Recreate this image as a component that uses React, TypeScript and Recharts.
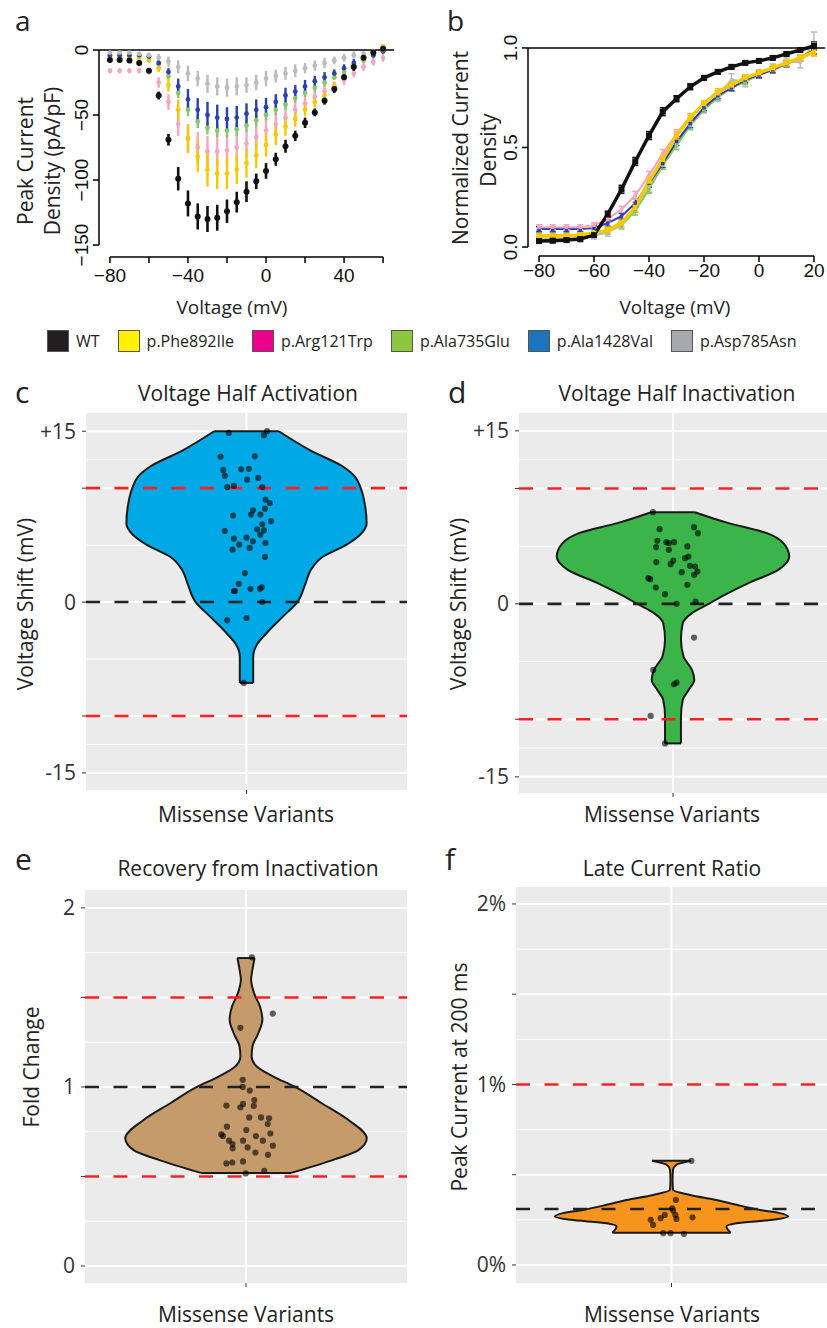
import React from "react";
import {
  ComposedChart, LineChart, Line, Area, Scatter, XAxis, YAxis, CartesianGrid, ReferenceLine, ErrorBar,
} from "recharts";

const LABEL_FONT = "'Open Sans', 'DejaVu Sans', sans-serif";
const TICK_FONT = "'Liberation Sans', Arial, sans-serif";

// ---- panel a: peak current density (pA/pF) vs voltage ----
const voltsA = [-80, -75, -70, -65, -60, -55, -50, -45, -40, -35, -30, -25, -20, -15, -10, -5, 0, 5, 10, 15, 20, 25, 30, 35, 40, 45, 50, 55, 60];
const wtA = [-7.7, -7.7, -8, -10, -16, -35, -69, -99, -118, -128, -130, -129, -124, -117, -109, -101, -93, -84, -74, -66, -56, -48, -39, -30, -21, -13, -6, -2, 1];
const wtErrA = [1, 1, 1, 1.5, 2, 3, 4.5, 9, 10, 10, 10, 10, 9, 8, 8, 6, 6, 5, 5, 4, 4, 3, 3, 3, 3, 3, 2, 2, 2];
const pheA = [-6, -6, -6, -7, -8, -14, -27, -46, -68, -82, -92, -95, -95, -92, -87, -81, -73, -65, -59, -53, -46, -40, -35, -28, -21, -12, -6, -2, 2.5];
const pheErrA = [1, 1, 1, 1, 2, 3, 5, 8, 11, 12, 13, 12, 12, 11, 11, 10, 9, 8, 7, 6, 5, 4, 4, 3, 3, 2, 2, 2, 2];
const argA = [-16, -16, -16, -16, -17, -25, -40, -57, -68, -75, -78, -78, -77, -75, -72, -67, -62, -57, -52, -46, -41, -36, -32, -28, -23, -18, -13, -9, -6];
const argErrA = [2, 2, 2, 2, 2, 4, 6, 9, 11, 12, 12, 12, 12, 11, 11, 10, 9, 8, 7, 6, 6, 5, 5, 4, 4, 3, 3, 3, 3];
const ala735A = [-5, -5, -5, -5, -5, -11, -20, -33, -46, -55, -60, -62, -62, -61, -58, -54, -50, -46, -42, -37, -33, -29, -25, -21, -17, -12, -8, -4, -1];
const ala735ErrA = [1, 1, 1, 1, 1, 2, 3, 4, 5, 5, 5, 5, 5, 5, 5, 5, 4, 4, 4, 3, 3, 3, 3, 2, 2, 2, 2, 2, 2];
const ala1428A = [-4, -4, -4, -4, -5, -10, -17, -28, -38, -46, -50, -52, -53, -52, -49, -46, -44, -40, -35, -32, -28, -24, -21, -18, -14, -10, -6, -4, -1];
const ala1428ErrA = [1, 1, 1, 1, 1, 2, 3, 6, 8, 9, 10, 10, 9, 9, 8, 8, 7, 6, 6, 5, 5, 4, 4, 3, 3, 3, 2, 2, 2];
const aspA = [-2, -2, -2, -3, -4, -6, -9, -13, -18, -22, -26, -28, -29, -28, -27, -25, -22, -20, -18, -16, -14, -12, -10, -8, -6, -4, -3, -1, 0];
const aspErrA = [1, 1, 1, 1, 2, 3, 4, 5, 6, 6, 7, 7, 7, 7, 6, 6, 6, 5, 5, 5, 4, 4, 4, 3, 3, 3, 2, 2, 2];
const xTicksA = [-80, -60, -40, -20, 0, 20, 40, 60];
const xLabelsA = [-80, -40, 0, 40];
const yTicksA = [-150, -100, -50, 0];

// ---- panel b: normalized current density vs voltage ----
const voltsB = [-80, -75, -70, -65, -60, -55, -50, -45, -40, -35, -30, -25, -20, -15, -10, -5, 0, 5, 10, 15, 20];
const wtB = [0.03, 0.032, 0.035, 0.04, 0.06, 0.165, 0.29, 0.43, 0.56, 0.68, 0.745, 0.805, 0.85, 0.88, 0.905, 0.925, 0.935, 0.95, 0.97, 0.99, 1.01];
const pheB = [0.055, 0.055, 0.055, 0.06, 0.07, 0.085, 0.12, 0.2, 0.33, 0.44, 0.56, 0.65, 0.72, 0.78, 0.815, 0.85, 0.875, 0.9, 0.925, 0.95, 0.98];
const argB = [0.1, 0.1, 0.1, 0.1, 0.11, 0.14, 0.19, 0.26, 0.36, 0.47, 0.57, 0.65, 0.72, 0.77, 0.81, 0.85, 0.875, 0.9, 0.925, 0.95, 0.98];
const ala735B = [0.06, 0.06, 0.06, 0.06, 0.065, 0.08, 0.11, 0.18, 0.29, 0.41, 0.51, 0.61, 0.69, 0.75, 0.8, 0.83, 0.865, 0.89, 0.92, 0.95, 0.99];
const ala1428B = [0.09, 0.09, 0.09, 0.09, 0.095, 0.12, 0.155, 0.22, 0.32, 0.42, 0.53, 0.62, 0.7, 0.76, 0.8, 0.84, 0.865, 0.89, 0.92, 0.95, 0.99];
const aspB = [0.04, 0.04, 0.04, 0.04, 0.055, 0.075, 0.11, 0.2, 0.3, 0.42, 0.52, 0.62, 0.7, 0.76, 0.84, 0.83, 0.87, 0.9, 0.93, 0.93, 1.02];
const wtErrB = [0.01, 0.01, 0.01, 0.01, 0.01, 0.015, 0.02, 0.02, 0.02, 0.02, 0.015, 0.015, 0.01, 0.01, 0.01, 0.01, 0.01, 0.01, 0.01, 0.01, 0.02];
const varErrB = [0.012, 0.012, 0.012, 0.012, 0.012, 0.015, 0.015, 0.02, 0.02, 0.02, 0.02, 0.02, 0.015, 0.015, 0.015, 0.015, 0.015, 0.015, 0.015, 0.015, 0.02];
const aspErrB = [0.015, 0.015, 0.015, 0.015, 0.015, 0.02, 0.02, 0.025, 0.025, 0.03, 0.03, 0.03, 0.025, 0.025, 0.03, 0.025, 0.02, 0.02, 0.02, 0.03, 0.06];
const xTicksB = [-80, -60, -40, -20, 0, 20];
const yTicksB = [0, 0.5, 1];

const seriesKeys = ["wt", "phe", "arg", "ala735", "ala1428", "asp"];
const legendNames = ["WT", "p.Phe892Ile", "p.Arg121Trp", "p.Ala735Glu", "p.Ala1428Val", "p.Asp785Asn"];

// ---- violin panels ----
const cShapeV = [-7.1, -4.8, -3.66, -2.8, -1.3, 0, 1.6, 2.8, 3.96, 5.0, 6.15, 6.9, 8.35, 10, 11, 11.9, 13.3, 15];
const cShapeW = [0.025, 0.025, 0.041, 0.072, 0.135, 0.19, 0.22, 0.24, 0.284, 0.371, 0.434, 0.449, 0.444, 0.427, 0.406, 0.36, 0.24, 0.121];
const cVal = [14.85, 15, 14.65, 12.75, 12.8, 11.6, 11.66, 11.7, 11.1, 10.75, 10.9, 10.1, 10.2, 10.1, 9.0, 8.7, 8.06, 8.2, 7.6, 7.68, 7.68, 7.1, 6.83, 6.24, 6.39, 6.3, 5.9, 5.57, 5.65, 5.33, 5.04, 5.19, 4.6, 4.75, 3.96, 2.55, 1.6, 0.97, 0.97, 1.17, 1.17, 1.3, 0, -1.6, -1.4, -7.1];
const cJit = [-0.066, 0.077, 0.065, -0.097, 0.031, -0.087, -0.02, 0.009, -0.081, 0.002, 0.044, -0.072, -0.047, 0.059, 0.071, 0.087, 0.024, 0.069, -0.05, 0.017, 0.052, 0.092, 0.059, -0.081, 0.04, 0.065, 0.052, -0.047, 0, 0.024, -0.027, 0.071, -0.052, 0.012, 0.069, -0.006, -0.029, -0.047, -0.043, 0.015, 0.05, 0.057, 0.059, -0.072, 0, -0.01];

const dShapeV = [-12.1, -9.78, -8.33, -7.46, -6.6, -5.73, -4.57, -3.1, -1.68, -0.8, 0, 0.64, 1.8, 2.95, 4.1, 5.26, 6.13, 7.0, 7.95];
const dShapeW = [0.031, 0.031, 0.038, 0.061, 0.083, 0.074, 0.041, 0.031, 0.038, 0.074, 0.139, 0.19, 0.294, 0.41, 0.453, 0.43, 0.366, 0.217, 0.085];
const dVal = [7.95, 6.48, 6.65, 6.13, 5.47, 5.35, 5.35, 5.26, 4.98, 4.92, 4.69, 4.1, 3.96, 3.76, 3.62, 3.44, 3.3, 3.24, 2.75, 2.8, 2.52, 2.23, 2.14, 1.65, 1.42, 0.84, 0, 0.2, -2.92, -5.73, -6.97, -6.83, -9.72, -12.1];
const dJit = [-0.078, -0.052, 0.082, 0.097, -0.061, -0.026, 0.004, -0.016, 0.056, -0.066, -0.016, 0.06, 0.047, 0.001, -0.065, -0.009, 0.066, 0.086, 0.034, 0.095, 0.082, -0.096, -0.089, 0.056, -0.067, -0.031, 0.014, 0.088, 0.082, -0.077, 0.004, 0.014, -0.087, -0.031];

const eShapeV = [0.52, 0.59, 0.647, 0.713, 0.815, 0.909, 1.0, 1.058, 1.114, 1.17, 1.226, 1.3, 1.375, 1.45, 1.52, 1.6, 1.655, 1.72];
const eShapeW = [0.168, 0.32, 0.419, 0.45, 0.382, 0.282, 0.183, 0.102, 0.04, 0.021, 0.024, 0.046, 0.061, 0.052, 0.031, 0.019, 0.024, 0.032];
const eVal = [1.724, 1.41, 1.33, 1.04, 1.0, 0.98, 0.896, 0.886, 0.905, 0.927, 0.894, 0.83, 0.83, 0.825, 0.793, 0.778, 0.759, 0.735, 0.726, 0.74, 0.726, 0.7, 0.681, 0.7, 0.7, 0.672, 0.662, 0.657, 0.634, 0.621, 0.573, 0.578, 0.584, 0.517, 0.532];
const eJit = [0.022, 0.1, -0.021, -0.012, -0.012, 0.014, -0.073, -0.021, -0.011, 0.031, 0.029, 0.012, 0.056, 0.086, 0.081, -0.071, 0.001, -0.092, -0.086, 0.091, 0.037, -0.063, -0.05, -0.011, 0.063, 0.1, 0.006, -0.05, 0.035, 0.082, -0.073, -0.051, -0.011, -0.001, 0.068];

const fShapeV = [0.179, 0.213, 0.231, 0.25, 0.268, 0.287, 0.305, 0.333, 0.36, 0.388, 0.416, 0.471, 0.527, 0.555, 0.577];
const fShapeW = [0.228, 0.212, 0.25, 0.39, 0.45, 0.418, 0.341, 0.251, 0.174, 0.071, 0.006, 0.004, 0.006, 0.019, 0.075];
const fVal = [0.577, 0.36, 0.314, 0.301, 0.277, 0.259, 0.25, 0.277, 0.255, 0.264, 0.222, 0.176, 0.176, 0.172];
const fJit = [0.077, 0.017, 0.003, 0.006, -0.026, -0.042, -0.08, 0.015, 0.019, 0.081, -0.071, -0.032, -0.004, 0.048];

const shiftTicks = [-15, -10, 0, 10, 15];
const shiftTickLabels = ["-15", "", "0", "", "+15"];
const shiftMinor = [-12.5, -5, 5, 12.5];
const foldTicks = [0, 0.5, 1, 1.5, 2];
const foldTickLabels = ["0", "", "1", "", "2"];
const pctTickLabels = ["0%", "", "1%", "", "2%"];
const foldMinor = [0.25, 0.75, 1.25, 1.75];

// ---- styling ----
const TRACE = { wt: "#111111", phe: "#f6c800", arg: "#f4a6bd", ala735: "#86c96a", ala1428: "#2b3fae", asp: "#bcbcbc" } as Record<string, string>;
const LEGEND = { wt: "#231f20", phe: "#fff200", arg: "#ec008c", ala735: "#8dc63f", ala1428: "#1c75bc", asp: "#a7a9ac" } as Record<string, string>;

const minus = (v: number) => (v < 0 ? `\u2212${Math.abs(v)}` : `${v}`);

const tableA = voltsA.map((v, i) => ({
  v,
  wt: wtA[i], wtErr: wtErrA[i],
  phe: pheA[i], pheErr: pheErrA[i],
  arg: argA[i], argErr: argErrA[i],
  ala735: ala735A[i], ala735Err: ala735ErrA[i],
  ala1428: ala1428A[i], ala1428Err: ala1428ErrA[i],
  asp: aspA[i], aspErr: aspErrA[i],
}));

const tableB = voltsB.map((v, i) => ({
  v,
  wt: wtB[i], wtErr: wtErrB[i],
  phe: pheB[i], pheErr: varErrB[i],
  arg: argB[i], argErr: varErrB[i],
  ala735: ala735B[i], ala735Err: varErrB[i],
  ala1428: ala1428B[i], ala1428Err: varErrB[i],
  asp: aspB[i], aspErr: aspErrB[i],
}));

const A_X: [number, number] = [-85.6, 65.6];
const A_Y: [number, number] = [-159.2, 7.7];
const B_X: [number, number] = [-84, 24];
const B_Y: [number, number] = [-0.045, 1.05];

function RotTick(props: any) {
  const { x, y, payload, fmt } = props;
  return (
    <text x={x} y={y} transform={`rotate(-90, ${x}, ${y})`} textAnchor="middle"
      fontSize={19} fontFamily={TICK_FONT} fill="#111">{fmt(payload.value)}</text>
  );
}

function PanelA() {
  const order = ["arg", "ala735", "phe", "ala1428", "asp", "wt"];
  return (
    <LineChart width={420} height={300} data={tableA} margin={{ top: 40, right: 26, bottom: 0, left: 59 }}>
      <XAxis dataKey="v" type="number" domain={A_X} ticks={xTicksA} interval={0} height={43}
        axisLine={false} tickSize={6} tickLine={{ stroke: "#000", strokeWidth: 1.5 }} allowDataOverflow
        tick={(p: any) => (
          <text x={p.x} y={p.y} dy={17} textAnchor="middle" fontSize={19} fontFamily={TICK_FONT} fill="#111">
            {xLabelsA.includes(p.payload.value) ? minus(p.payload.value) : ""}
          </text>
        )} />
      <YAxis type="number" domain={A_Y} ticks={yTicksA} interval={0} width={40} axisLine={false}
        tickSize={6} tickMargin={5} tickLine={{ stroke: "#000", strokeWidth: 1.5 }} allowDataOverflow
        tick={(p: any) => <RotTick {...p} fmt={minus} />} />
      <ReferenceLine segment={[{ x: -80, y: A_Y[0] }, { x: 60, y: A_Y[0] }]} stroke="#000" strokeWidth={1.5} />
      <ReferenceLine segment={[{ x: A_X[0], y: 0 }, { x: A_X[0], y: -150 }]} stroke="#000" strokeWidth={1.5} />
      <ReferenceLine y={0} stroke="#000" strokeWidth={1.5} />
      {order.map((k) => (
        <Line key={k} dataKey={k} stroke="none" isAnimationActive={false}
          dot={{ r: k === "wt" ? 3 : 2.4, fill: TRACE[k], stroke: "none" }} activeDot={false}>
          <ErrorBar dataKey={`${k}Err`} width={0} strokeWidth={k === "wt" ? 2.6 : 2.4} stroke={TRACE[k]} direction="y" />
        </Line>
      ))}
    </LineChart>
  );
}

const squareDot = (size: number, color: string) => (p: any) => (
  <rect key={`sq${p.index}`} x={p.cx - size / 2} y={p.cy - size / 2} width={size} height={size} fill={color} />
);

function PanelB() {
  const order = ["asp", "ala735", "ala1428", "arg", "phe", "wt"];
  return (
    <LineChart width={407} height={300} data={tableB} margin={{ top: 38, right: 2, bottom: 0, left: 68 }}>
      <XAxis dataKey="v" type="number" domain={B_X} ticks={xTicksB} interval={0} height={44}
        axisLine={false} tickSize={6} tickLine={{ stroke: "#000", strokeWidth: 1.5 }} allowDataOverflow
        tick={(p: any) => (
          <text x={p.x} y={p.y} dy={13} textAnchor="middle" fontSize={19} fontFamily={TICK_FONT} fill="#111">
            {minus(p.payload.value)}
          </text>
        )} />
      <YAxis type="number" domain={B_Y} ticks={yTicksB} interval={0} width={40} axisLine={false}
        tickSize={6} tickMargin={5} tickLine={{ stroke: "#000", strokeWidth: 1.5 }} allowDataOverflow
        tick={(p: any) => <RotTick {...p} fmt={(v: number) => v.toFixed(1)} />} />
      <ReferenceLine segment={[{ x: -80, y: B_Y[0] }, { x: 20, y: B_Y[0] }]} stroke="#000" strokeWidth={1.5} />
      <ReferenceLine segment={[{ x: B_X[0], y: 0 }, { x: B_X[0], y: 1 }]} stroke="#000" strokeWidth={1.5} />
      <ReferenceLine y={1} stroke="#000" strokeWidth={1.5} />
      {order.map((k) => {
        const thick = k === "wt" || k === "phe";
        return (
          <Line key={k} dataKey={k} type="linear" stroke={TRACE[k]} strokeWidth={thick ? 3.5 : 2}
            isAnimationActive={false} activeDot={false}
            dot={squareDot(k === "wt" ? 6 : thick ? 5 : 3.5, TRACE[k])}>
            <ErrorBar dataKey={`${k}Err`} width={3} strokeWidth={1.5} stroke={TRACE[k]} direction="y" />
          </Line>
        );
      })}
    </LineChart>
  );
}

type ViolinProps = {
  shapeV: number[]; shapeW: number[]; ptX: number[]; ptV: number[];
  fill: string; domain: [number, number]; ticks: number[]; tickLabels: string[];
  minor: number[]; redLines: number[]; blackLine: number;
  width: number; height: number; marginLeft: number; marginRight: number;
};

function ViolinPanel(p: ViolinProps) {
  const shape = p.shapeV.map((v, i) => ({ v, w: p.shapeW[i] }));
  const pts = p.ptV.map((v, i) => ({ v, x: p.ptX[i] }));
  const lo = shape[0];
  const hi = shape[shape.length - 1];
  const dash = "14 14.5";
  return (
    <ComposedChart layout="vertical" width={p.width} height={p.height} data={shape}
      margin={{ top: 13, right: p.marginRight, bottom: 0, left: p.marginLeft }}>
      <CartesianGrid fill="#ebebeb" fillOpacity={1} stroke="#ffffff" strokeWidth={2}
        horizontalValues={p.ticks} verticalValues={[0]} />
      <CartesianGrid stroke="#ffffff" strokeWidth={1} horizontalValues={p.minor} vertical={false} />
      <XAxis type="number" domain={[-0.6, 0.6]} ticks={[0]} tickFormatter={() => ""} axisLine={false}
        tickLine={{ stroke: "#333" }} tickSize={4} height={30} allowDataOverflow />
      <YAxis type="number" dataKey="v" domain={p.domain} ticks={p.ticks} interval={0} width={60} reversed
        axisLine={false} tickLine={{ stroke: "#333" }} tickSize={4} tickMargin={6} allowDataOverflow
        tickFormatter={(v: number) => p.tickLabels[p.ticks.indexOf(v)] ?? ""}
        tick={{ fontSize: 21, fill: "#333", fontFamily: LABEL_FONT }} />
      <Area dataKey={(d: any) => [-d.w, d.w]} type="monotone" fill={p.fill} fillOpacity={1}
        stroke="#1a1a1a" strokeWidth={2} isAnimationActive={false} activeDot={false} />
      <ReferenceLine segment={[{ x: -lo.w, y: lo.v }, { x: lo.w, y: lo.v }]} stroke="#1a1a1a" strokeWidth={2} />
      <ReferenceLine segment={[{ x: -hi.w, y: hi.v }, { x: hi.w, y: hi.v }]} stroke="#1a1a1a" strokeWidth={2} />
      {p.redLines.map((y) => (
        <ReferenceLine key={y} y={y} stroke="#ff1f1f" strokeWidth={2.6} strokeDasharray={dash} />
      ))}
      <ReferenceLine y={p.blackLine} stroke="#222" strokeWidth={2.6} strokeDasharray={dash} />
      <Scatter data={pts} dataKey="x" isAnimationActive={false}
        shape={(s: any) => <circle cx={s.cx} cy={s.cy} r={3.1} fill="#000" fillOpacity={0.6} />} />
    </ComposedChart>
  );
}

function Legend() {
  return (
    <div style={{ position: "absolute", left: 47, top: 330, height: 22, display: "flex", alignItems: "center" }}>
      {seriesKeys.map((k, i) => (
        <div key={k} style={{ display: "flex", alignItems: "center", marginRight: 18 }}>
          <div style={{ width: 22, height: 22, boxSizing: "border-box", background: LEGEND[k], border: "1px solid #555" }} />
          <span style={{ marginLeft: 7, fontSize: 16, fontFamily: LABEL_FONT, color: "#222" }}>{legendNames[i]}</span>
        </div>
      ))}
    </div>
  );
}

function T(props: { x: number; y: number; size?: number; anchor?: string; rot?: boolean; children: React.ReactNode }) {
  const { x, y, size = 21, anchor = "middle", rot = false } = props;
  return (
    <text x={x} y={y} fontSize={size} fontFamily={LABEL_FONT} fill="#222" textAnchor={anchor as any}
      transform={rot ? `rotate(-90, ${x}, ${y})` : undefined}>{props.children}</text>
  );
}

export default function App() {
  return (
    <div style={{ position: "absolute", left: 0, top: 0, width: 827, height: 1328, background: "#fff", overflow: "hidden" }}>
      <div style={{ position: "absolute", left: 0, top: 0 }}><PanelA /></div>
      <div style={{ position: "absolute", left: 420, top: 0 }}><PanelB /></div>
      <Legend />
      <div style={{ position: "absolute", left: 0, top: 400 }}>
        <ViolinPanel shapeV={cShapeV} shapeW={cShapeW} ptX={cJit} ptV={cVal} fill="#00a9e6"
          domain={[-16.5, 16.6]} ticks={shiftTicks} tickLabels={shiftTickLabels} minor={shiftMinor}
          redLines={[10, -10]} blackLine={0} width={420} height={420} marginLeft={26} marginRight={13} />
      </div>
      <div style={{ position: "absolute", left: 420, top: 400 }}>
        <ViolinPanel shapeV={dShapeV} shapeW={dShapeW} ptX={dJit} ptV={dVal} fill="#3bb54a"
          domain={[-16.4, 16.55]} ticks={shiftTicks} tickLabels={shiftTickLabels} minor={shiftMinor}
          redLines={[10, -10]} blackLine={0} width={407} height={423} marginLeft={39} marginRight={0} />
      </div>
      <div style={{ position: "absolute", left: 0, top: 877 }}>
        <ViolinPanel shapeV={eShapeV} shapeW={eShapeW} ptX={eJit} ptV={eVal} fill="#c59b6c"
          domain={[-0.095, 2.1]} ticks={foldTicks} tickLabels={foldTickLabels} minor={foldMinor}
          redLines={[1.5, 0.5]} blackLine={1} width={420} height={436} marginLeft={25} marginRight={13} />
      </div>
      <div style={{ position: "absolute", left: 420, top: 874 }}>
        <ViolinPanel shapeV={fShapeV} shapeW={fShapeW} ptX={fJit} ptV={fVal} fill="#f7941d"
          domain={[-0.1, 2.094]} ticks={foldTicks} tickLabels={pctTickLabels} minor={foldMinor}
          redLines={[1]} blackLine={0.31} width={407} height={439} marginLeft={36} marginRight={0} />
      </div>
      <svg width={827} height={1328} style={{ position: "absolute", left: 0, top: 0, pointerEvents: "none" }}>
        <T x={15} y={31} size={28} anchor="start">a</T>
        <T x={447} y={31} size={28} anchor="start">b</T>
        <T x={15} y={403} size={30} anchor="start">c</T>
        <T x={448} y={403} size={30} anchor="start">d</T>
        <T x={15} y={870} size={30} anchor="start">e</T>
        <T x={445} y={870} size={30} anchor="start">f</T>

        <T x={33} y={161} rot>Peak Current</T>
        <T x={60} y={161} rot>Density (pA/pF)</T>
        <T x={232} y={314} size={19}>Voltage (mV)</T>
        <T x={468} y={148} rot>Normalized Current</T>
        <T x={496} y={150} rot>Density</T>
        <T x={675} y={314} size={19}>Voltage (mV)</T>

        <T x={248} y={401}>Voltage Half Activation</T>
        <T x={677} y={401}>Voltage Half Inactivation</T>
        <T x={33} y={604} rot>Voltage Shift (mV)</T>
        <T x={466} y={604} rot>Voltage Shift (mV)</T>
        <T x={246} y={822}>Missense Variants</T>
        <T x={672} y={822}>Missense Variants</T>

        <T x={248} y={876}>Recovery from Inactivation</T>
        <T x={672} y={876}>Late Current Ratio</T>
        <T x={39} y={1067} rot>Fold Change</T>
        <T x={467} y={1077} rot>Peak Current at 200 ms</T>
        <T x={246} y={1322}>Missense Variants</T>
        <T x={672} y={1322}>Missense Variants</T>
      </svg>
    </div>
  );
}
